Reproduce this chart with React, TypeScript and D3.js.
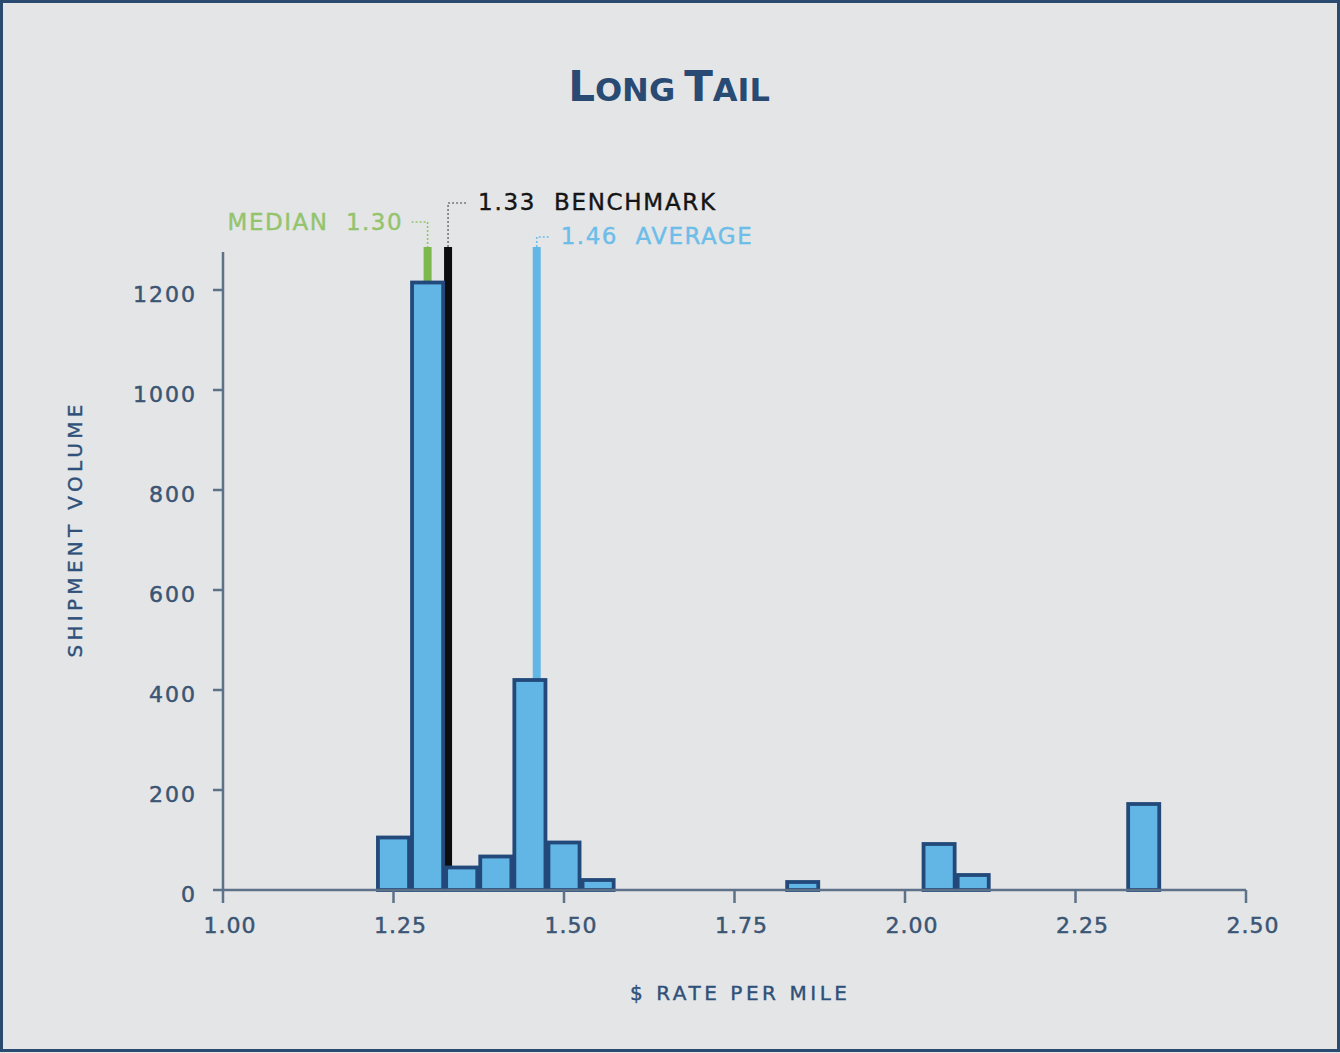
import React from "react";
import * as d3 from "d3";

const binCenters = [1.25, 1.3, 1.35, 1.4, 1.45, 1.5, 1.55, 1.85, 2.05, 2.1, 2.35];
const volumes = [105, 1215, 45, 67, 420, 95, 20, 16, 92, 30, 172];
const binWidth = 0.05;
const xTicks = [1.0, 1.25, 1.5, 1.75, 2.0, 2.25, 2.5];
const yTicks = [0, 200, 400, 600, 800, 1000, 1200];
const refNames = ["MEDIAN", "BENCHMARK", "AVERAGE"];
const refValues = [1.3, 1.33, 1.46];
const refLineTop = 1286;
const yAxisTop = 1276;

const W = 1340;
const H = 1053;
const FONT = "'DejaVu Sans', 'Open Sans', sans-serif";

export default function App() {
  const x = d3.scaleLinear().domain([1.0, 2.5]).range([223, 1246]);
  const y = d3.scaleLinear().domain([0, 1200]).range([890, 290]);
  const bars = binCenters.map((c, i) => ({ c, v: volumes[i] }));
  const fmtX = d3.format(".2f");

  const refColors = ["#7db84e", "#0d0d0d", "#63b7e6"];
  const textColors = ["#93c46c", "#151515", "#6dbde9"];
  const dotColors = ["#93c46c", "#777777", "#6dbde9"];

  const topY = y(refLineTop);
  const xm = x(refValues[0]);
  const xb = x(refValues[1]);
  const xa = x(refValues[2]);
  const tickColor = "#3b5574";
  const titleColor = "#2f5079";
  const pre = { whiteSpace: "pre" as const };

  return (
    <svg
      width={W}
      height={H}
      style={{ position: "absolute", left: 0, top: 0, display: "block" }}
      fontFamily={FONT}
    >
      <rect x={0} y={0} width={W} height={H} fill="#e4e5e7" />
      <rect x={1.5} y={1.5} width={W - 3} height={H - 4} fill="none" stroke="#2b4a70" strokeWidth={3} />

      {/* Title */}
      <text x={669} y={101} textAnchor="middle" fill="#294a73" fontWeight="bold">
        <tspan fontSize={42}>L</tspan>
        <tspan fontSize={32}>ONG</tspan>
        <tspan fontSize={42} dx={9}>T</tspan>
        <tspan fontSize={32}>AIL</tspan>
      </text>

      {/* reference lines (behind bars) */}
      {refValues.map((v, i) => (
        <rect key={"ref" + i} x={x(v) - 4} y={topY} width={8} height={y(0) - topY} fill={refColors[i]} />
      ))}

      {/* bars */}
      {bars.map((b, i) => (
        <rect
          key={"bar" + i}
          x={x(b.c - binWidth / 2) + 1.5}
          y={y(b.v)}
          width={x(b.c + binWidth / 2) - x(b.c - binWidth / 2) - 3}
          height={y(0) - y(b.v)}
          fill="#62b6e6"
          stroke="#22497a"
          strokeWidth={3.8}
        />
      ))}

      {/* axes */}
      <line x1={x(1.0)} x2={x(2.5)} y1={y(0)} y2={y(0)} stroke="#5d7189" strokeWidth={2.5} />
      <line x1={x(1.0)} x2={x(1.0)} y1={y(yAxisTop)} y2={y(0)} stroke="#5d7189" strokeWidth={2.5} />
      {xTicks.map((t) => (
        <g key={"xt" + t}>
          <line x1={x(t)} x2={x(t)} y1={y(0)} y2={y(0) + 13} stroke="#5d7189" strokeWidth={2.5} />
          <text
            x={x(t) + 7}
            y={y(0) + 43}
            textAnchor="middle"
            fontSize={22}
            fill={tickColor}
            stroke={tickColor}
            strokeWidth={0.5}
            letterSpacing={1}
          >
            {fmtX(t)}
          </text>
        </g>
      ))}
      {yTicks.map((t) => (
        <g key={"yt" + t}>
          <line x1={x(1.0) - 10} x2={x(1.0)} y1={y(t)} y2={y(t)} stroke="#5d7189" strokeWidth={2.5} />
          <text
            x={197}
            y={y(t) + 12}
            textAnchor="end"
            fontSize={22}
            fill={tickColor}
            stroke={tickColor}
            strokeWidth={0.5}
            letterSpacing={2}
          >
            {t}
          </text>
        </g>
      ))}

      {/* axis titles */}
      <text
        transform="translate(82,531) rotate(-90)"
        textAnchor="middle"
        fontSize={20}
        fill={titleColor}
        stroke={titleColor}
        strokeWidth={0.4}
        textLength={253}
        lengthAdjust="spacing"
      >
        SHIPMENT VOLUME
      </text>
      <text
        x={738.5}
        y={1000}
        textAnchor="middle"
        fontSize={20}
        fill={titleColor}
        stroke={titleColor}
        strokeWidth={0.4}
        textLength={217}
        lengthAdjust="spacing"
      >
        $ RATE PER MILE
      </text>

      {/* annotations */}
      <path
        d={`M${xm - 16},222 H${xm} V${topY}`}
        fill="none"
        stroke={dotColors[0]}
        strokeWidth={1.6}
        strokeDasharray="2,2"
      />
      <text
        x={xm - 26}
        y={230}
        textAnchor="end"
        fontSize={23}
        fill={textColors[0]}
        stroke={textColors[0]}
        strokeWidth={0.4}
        textLength={174}
        lengthAdjust="spacing"
        style={pre}
      >
        {refNames[0] + "  " + refValues[0].toFixed(2)}
      </text>

      <path
        d={`M${xb},${topY} V203 H${xb + 18}`}
        fill="none"
        stroke={dotColors[1]}
        strokeWidth={1.6}
        strokeDasharray="2,2"
      />
      <text
        x={xb + 30}
        y={210}
        fontSize={23}
        fill={textColors[1]}
        stroke={textColors[1]}
        strokeWidth={0.4}
        textLength={237}
        lengthAdjust="spacing"
        style={pre}
      >
        {refValues[1].toFixed(2) + "  " + refNames[1]}
      </text>

      <path
        d={`M${xa},${topY} V237 H${xa + 14}`}
        fill="none"
        stroke={dotColors[2]}
        strokeWidth={1.6}
        strokeDasharray="2,2"
      />
      <text
        x={xa + 24}
        y={244}
        fontSize={23}
        fill={textColors[2]}
        stroke={textColors[2]}
        strokeWidth={0.4}
        textLength={191}
        lengthAdjust="spacing"
        style={pre}
      >
        {refValues[2].toFixed(2) + "  " + refNames[2]}
      </text>
    </svg>
  );
}
